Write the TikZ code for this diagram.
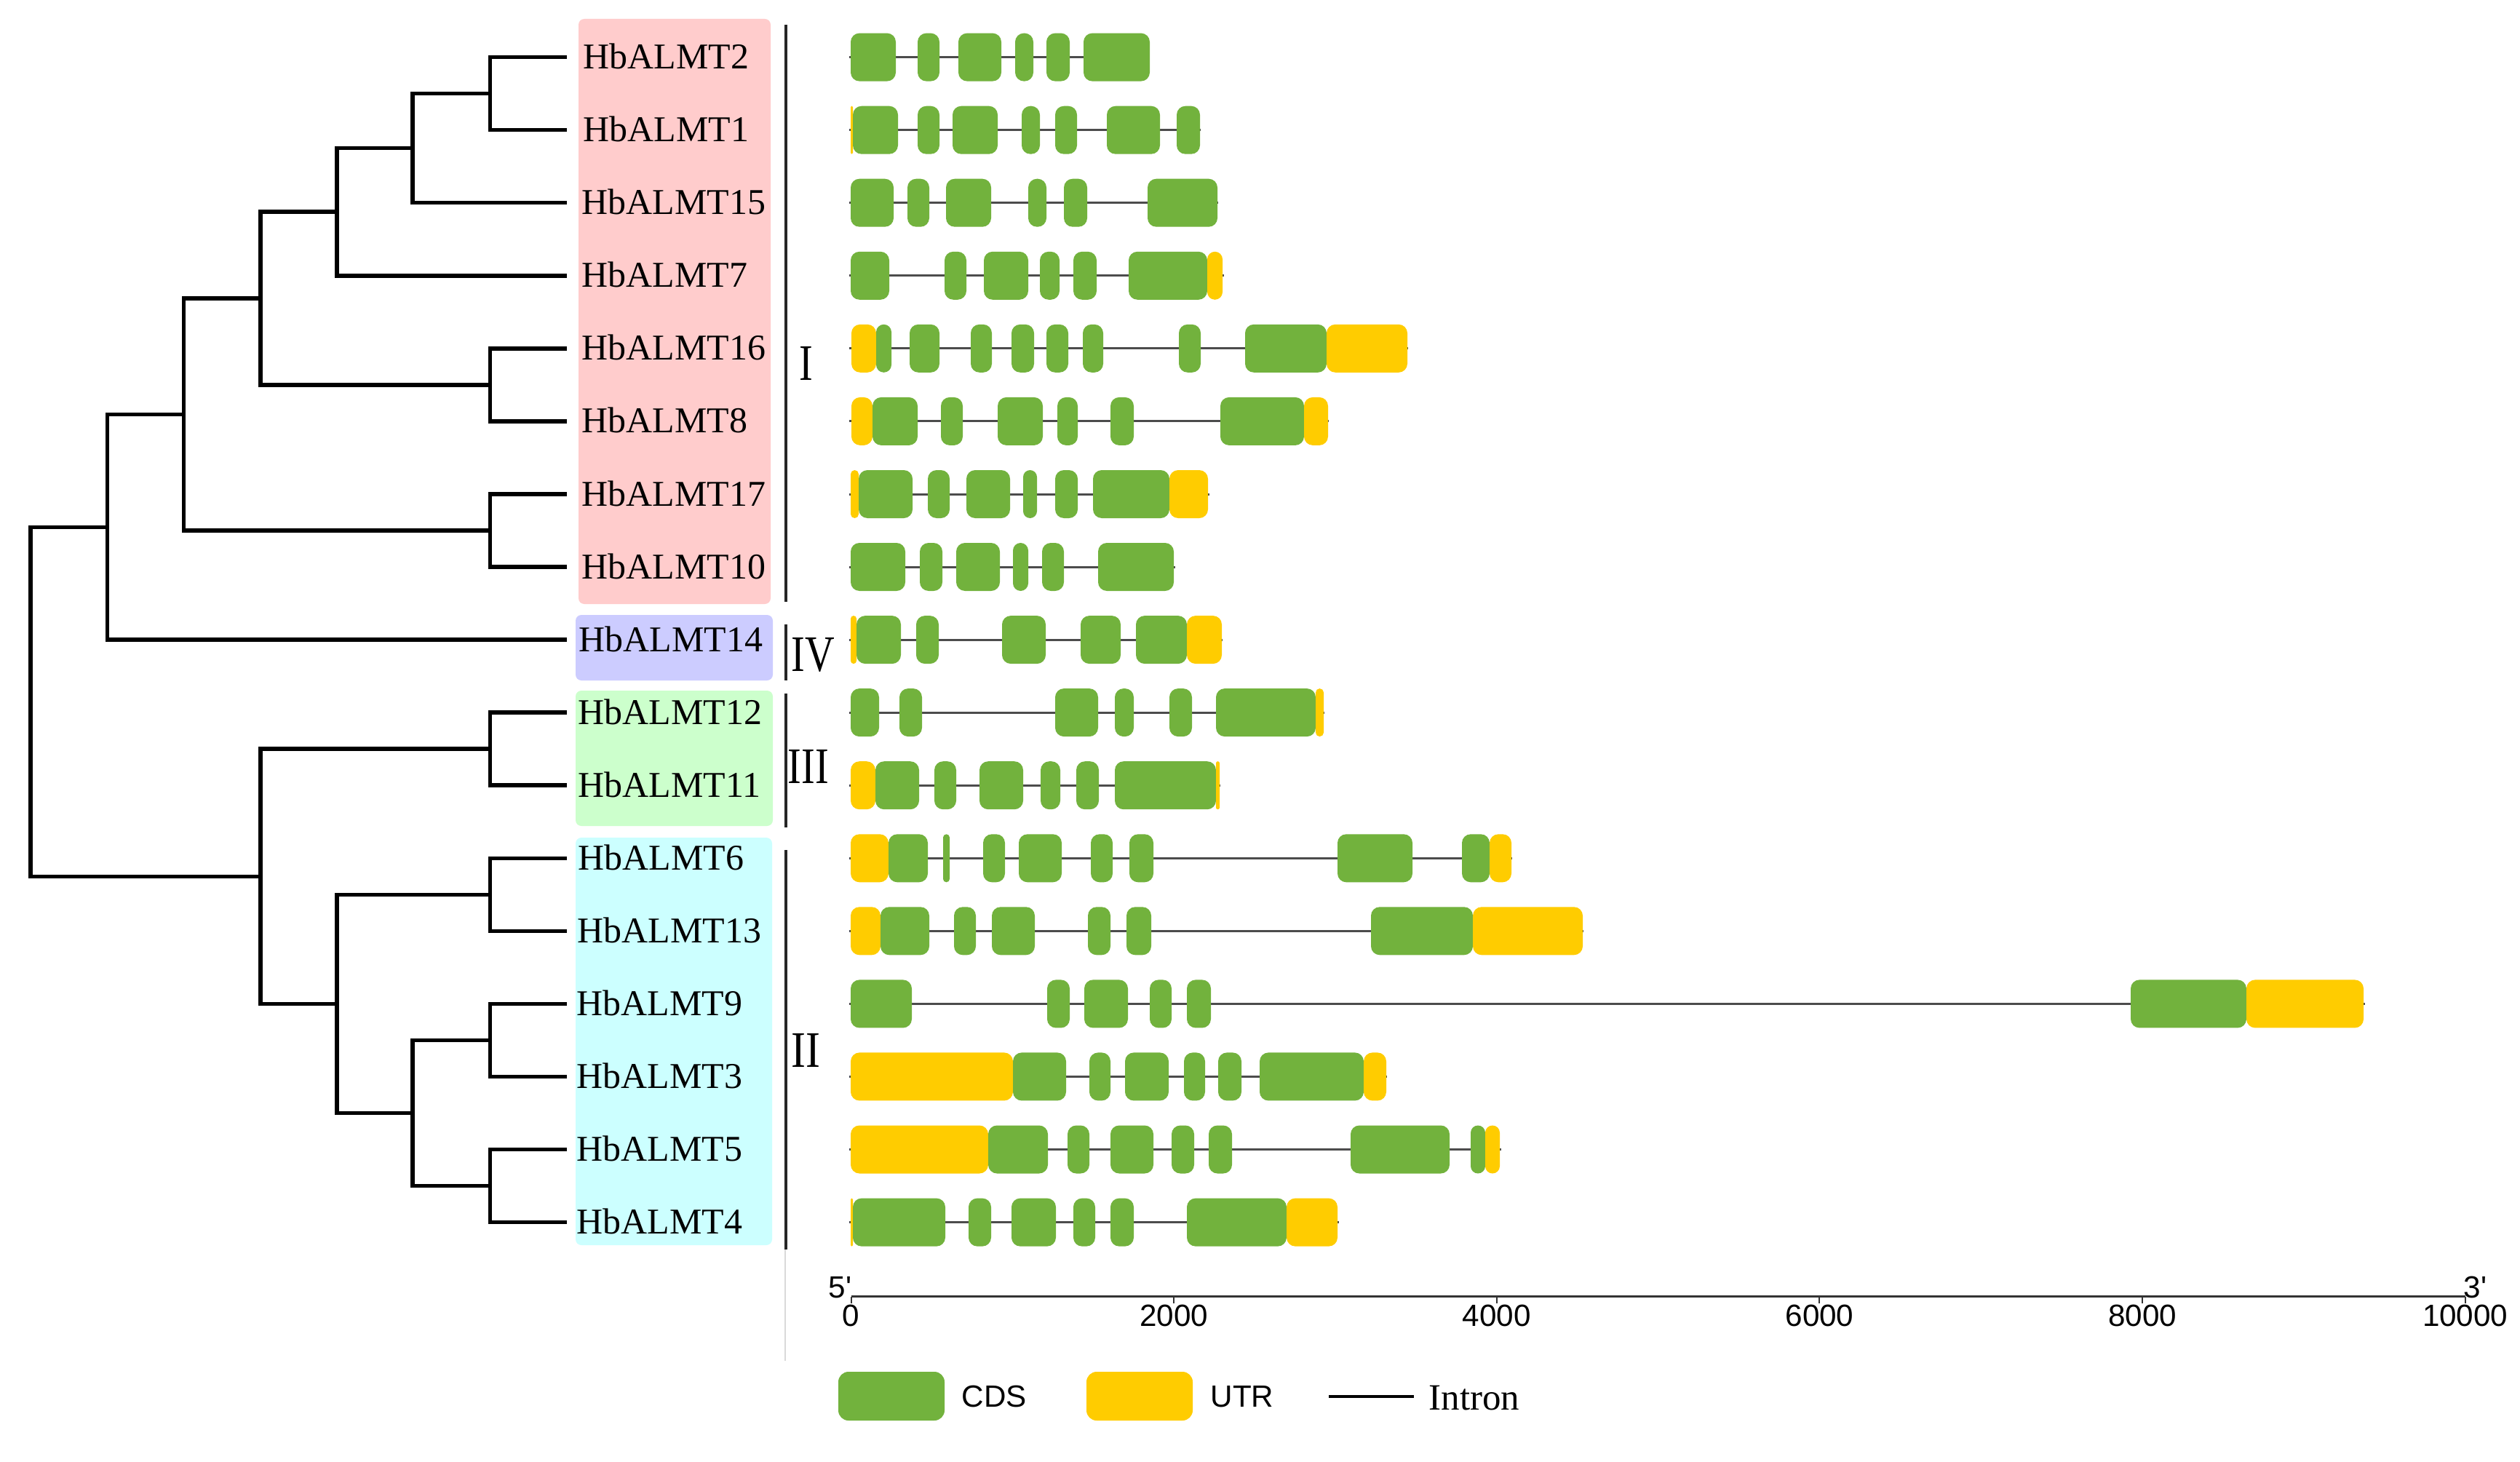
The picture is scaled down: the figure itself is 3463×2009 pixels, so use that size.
\documentclass[tikz,border=0pt]{standalone}
\usepackage{fontspec}
\usepackage{graphicx}
\setmainfont{Liberation Serif}
\newfontfamily\arialf{Liberation Sans}
\definecolor{cdsc}{RGB}{114,178,61}
\definecolor{utrc}{RGB}{255,204,0}
\definecolor{pinkbox}{RGB}{255,204,204}
\definecolor{purplebox}{RGB}{204,204,255}
\definecolor{greenbox}{RGB}{204,255,204}
\definecolor{cyanbox}{RGB}{204,255,255}
\newcommand\generow[3]{%
  \draw[intron] (1167,#1) -- (#2,#1);
  \foreach \xa/\xb/\ty in {#3}{%
    \pgfmathsetmacro\rr{min(12,(\xb-\xa)/2)}%
    \fill[\ty, rounded corners=\rr*0.1mm] (\xa,#1-33) rectangle (\xb,#1+33);}%
}
\begin{document}
\begin{tikzpicture}[x=0.01cm,y=-0.01cm,
  branch/.style={line width=0.55mm, draw=black},
  intron/.style={line width=0.3mm, draw=black!70},
  cds/.style={fill=cdsc},
  utr/.style={fill=utrc},
  lab/.style={anchor=base west, font=\fontsize{14.2}{16}\selectfont, inner sep=0pt},
  grp/.style={line width=0.4mm, draw=black!85},
  roman/.style={font=\fontsize{20}{22}\selectfont, inner sep=0pt},
  ticklab/.style={font=\arialf\fontsize{12}{14}\selectfont, inner sep=0pt},
  legtext/.style={font=\arialf\fontsize{12}{14}\selectfont, inner sep=0pt, anchor=west}]
\useasboundingbox (0,0) rectangle (3463,2009);
\fill[white] (0,0) rectangle (3463,2009);

% label background boxes
\fill[pinkbox, rounded corners=0.8mm] (795,26) rectangle (1059,830);
\fill[purplebox, rounded corners=0.8mm] (791,845) rectangle (1062,935);
\fill[greenbox, rounded corners=0.8mm] (791,949) rectangle (1062,1135);
\fill[cyanbox, rounded corners=0.8mm] (791,1151) rectangle (1061,1711);

% tips
\coordinate (t0) at (778.7,78.6);
\coordinate (t1) at (778.7,178.7);
\coordinate (t2) at (778.7,278.7);
\coordinate (t3) at (778.7,378.8);
\coordinate (t4) at (778.7,478.8);
\coordinate (t5) at (778.7,578.9);
\coordinate (t6) at (778.7,679.0);
\coordinate (t7) at (778.7,779.0);
\coordinate (t8) at (778.7,879.1);
\coordinate (t9) at (778.7,979.1);
\coordinate (t10) at (778.7,1079.2);
\coordinate (t11) at (778.7,1179.3);
\coordinate (t12) at (778.7,1279.3);
\coordinate (t13) at (778.7,1379.4);
\coordinate (t14) at (778.7,1479.4);
\coordinate (t15) at (778.7,1579.5);
\coordinate (t16) at (778.7,1679.6);
% internal nodes
\coordinate (a) at (673.4,128.65);
\coordinate (b) at (566.8,203.7);
\coordinate (c) at (463,291.2);
\coordinate (d) at (673.4,528.85);
\coordinate (e) at (357.8,410.0);
\coordinate (f) at (673.4,729.0);
\coordinate (g) at (252.5,569.5);
\coordinate (h) at (147.3,724.3);
\coordinate (i) at (673.4,1029.15);
\coordinate (j) at (673.4,1229.3);
\coordinate (k) at (673.4,1429.4);
\coordinate (l) at (673.4,1629.55);
\coordinate (m) at (566.8,1529.5);
\coordinate (n) at (463,1379.4);
\coordinate (o) at (357.8,1204.3);
\coordinate (r) at (42.1,964.3);

\draw[branch] (t0) -| (a) |- (t1);
\draw[branch] (a) -| (b) |- (t2);
\draw[branch] (b) -| (c) |- (t3);
\draw[branch] (t4) -| (d) |- (t5);
\draw[branch] (c) -| (e) |- (d);
\draw[branch] (t6) -| (f) |- (t7);
\draw[branch] (e) -| (g) |- (f);
\draw[branch] (g) -| (h) |- (t8);
\draw[branch] (t9) -| (i) |- (t10);
\draw[branch] (t11) -| (j) |- (t12);
\draw[branch] (t13) -| (k) |- (t14);
\draw[branch] (t15) -| (l) |- (t16);
\draw[branch] (k) -| (m) |- (l);
\draw[branch] (j) -| (n) |- (m);
\draw[branch] (i) -| (o) |- (n);
\draw[branch] (h) -| (r) |- (o);

% labels
\node[lab] (l0) at (801,94.6) {HbALMT2};
\node[lab] (l1) at (801,194.7) {HbALMT1};
\node[lab] (l2) at (799,294.7) {HbALMT15};
\node[lab] (l3) at (799,394.8) {HbALMT7};
\node[lab] (l4) at (799,494.8) {HbALMT16};
\node[lab] (l5) at (799,594.9) {HbALMT8};
\node[lab] (l6) at (799,695.0) {HbALMT17};
\node[lab] (l7) at (799,795.0) {HbALMT10};
\node[lab] (l8) at (795,895.1) {HbALMT14};
\node[lab] (l9) at (794,995.1) {HbALMT12};
\node[lab] (l10) at (794,1095.2) {HbALMT11};
\node[lab] (l11) at (794,1195.3) {HbALMT6};
\node[lab] (l12) at (793,1295.3) {HbALMT13};
\node[lab] (l13) at (792,1395.4) {HbALMT9};
\node[lab] (l14) at (792,1495.4) {HbALMT3};
\node[lab] (l15) at (792,1595.5) {HbALMT5};
\node[lab] (l16) at (792,1695.6) {HbALMT4};

% group bars
\draw[grp] (1080,34) -- (1080,827);
\draw[grp] (1080,858) -- (1080,935);
\draw[grp] (1080,953) -- (1080,1137);
\draw[grp] (1080,1168) -- (1080,1717);
\draw[line width=0.2mm, draw=black!15] (1079,1717) -- (1079,1870);
\node[roman] (gI) at (1108,499) {\scalebox{0.8}[1]{I}};
\node[roman] (gIV) at (1117,900) {\scalebox{0.8}[1]{IV}};
\node[roman] (gIII) at (1111,1053) {\scalebox{0.8}[1]{III}};
\node[roman] (gII) at (1107,1443) {\scalebox{0.85}[1]{II}};

% gene structures
\generow{78.6}{1580}{1169/1231/cds, 1261/1291/cds, 1317/1376/cds, 1395/1420/cds, 1438/1470/cds, 1489/1580/cds}
\generow{178.7}{1650}{1169/1172/utr, 1172/1234/cds, 1261/1291/cds, 1309/1371/cds, 1404/1429/cds, 1450/1480/cds, 1521/1594/cds, 1617/1649/cds}
\generow{278.7}{1674}{1169/1228/cds, 1247/1277/cds, 1300/1362/cds, 1413/1438/cds, 1462/1494/cds, 1577/1673/cds}
\generow{378.8}{1682}{1169/1222/cds, 1298/1328/cds, 1352/1413/cds, 1429/1456/cds, 1475/1507/cds, 1551/1659/cds, 1659/1680/utr}
\generow{478.8}{1935}{1170/1204/utr, 1204/1225/cds, 1250/1291/cds, 1334/1363/cds, 1390/1421/cds, 1438/1468/cds, 1488/1516/cds, 1620/1650/cds, 1711/1823/cds, 1823/1934/utr}
\generow{578.9}{1826}{1170/1199/utr, 1199/1261/cds, 1293/1323/cds, 1371/1433/cds, 1453/1481/cds, 1526/1558/cds, 1677/1792/cds, 1792/1825/utr}
\generow{679.0}{1662}{1169/1180/utr, 1180/1254/cds, 1275/1305/cds, 1328/1388/cds, 1406/1425/cds, 1450/1481/cds, 1502/1607/cds, 1607/1660/utr}
\generow{779.0}{1615}{1169/1244/cds, 1264/1295/cds, 1314/1374/cds, 1392/1413/cds, 1432/1462/cds, 1509/1613/cds}
\generow{879.1}{1680}{1169/1177/utr, 1177/1238/cds, 1259/1290/cds, 1377/1437/cds, 1485/1540/cds, 1561/1631/cds, 1631/1679/utr}
\generow{979.1}{1820}{1169/1208/cds, 1236/1267/cds, 1450/1509/cds, 1532/1558/cds, 1607/1638/cds, 1671/1808/cds, 1808/1819/utr}
\generow{1079.2}{1677}{1169/1203/utr, 1203/1263/cds, 1284/1314/cds, 1346/1406/cds, 1430/1457/cds, 1479/1510/cds, 1532/1671/cds, 1671/1676/utr}
\generow{1179.3}{2078}{1169/1221/utr, 1221/1275/cds, 1296/1305/cds, 1351/1381/cds, 1400/1459/cds, 1499/1529/cds, 1552/1585/cds, 1838/1941/cds, 2009/2047/cds, 2047/2077/utr}
\generow{1279.3}{2176}{1169/1210/utr, 1210/1277/cds, 1311/1341/cds, 1363/1422/cds, 1495/1526/cds, 1548/1582/cds, 1884/2024/cds, 2024/2175/utr}
\generow{1379.4}{3250}{1169/1253/cds, 1439/1470/cds, 1490/1550/cds, 1580/1610/cds, 1631/1664/cds, 2928/3087/cds, 3087/3248/utr}
\generow{1479.4}{1906}{1169/1392/utr, 1392/1465/cds, 1497/1526/cds, 1546/1606/cds, 1627/1656/cds, 1674/1706/cds, 1731/1874/cds, 1874/1905/utr}
\generow{1579.5}{2063}{1169/1358/utr, 1358/1440/cds, 1467/1497/cds, 1526/1585/cds, 1610/1641/cds, 1661/1693/cds, 1856/1992/cds, 2021/2041/cds, 2041/2061/utr}
\generow{1679.6}{1840}{1169/1172/utr, 1172/1299/cds, 1331/1362/cds, 1390/1451/cds, 1475/1505/cds, 1526/1558/cds, 1631/1768/cds, 1768/1838/utr}

% scale axis
\coordinate (ax0) at (1169.6,1781.7);
\coordinate (ax1) at (3387.7,1781.7);
\draw[line width=0.3mm, draw=black!80] (ax0) -- (ax1);
\foreach \v/\lbl in {0/0,1/2000,2/4000,3/6000,4/8000,5/10000}{
  \draw[line width=0.2mm, draw=black!80] (1169.6+443.62*\v,1781.7) -- (1169.6+443.62*\v,1791);
  \node[ticklab] (tk\v) at (1169.6+443.62*\v,1808) {\lbl};
}
\node[ticklab, anchor=base east] (five) at (1171,1783) {5'};
\node[ticklab, anchor=base west] (three) at (3385,1783) {3'};

% legend
\fill[cdsc, rounded corners=1.4mm] (1152,1885) rectangle (1298,1952);
\node[legtext] (cdst) at (1321,1919) {CDS};
\fill[utrc, rounded corners=1.4mm] (1493,1885) rectangle (1639,1952);
\node[legtext] (utrt) at (1663,1919) {UTR};
\coordinate (inta) at (1826,1919);
\coordinate (intb) at (1943,1919);
\draw[line width=0.45mm] (inta) -- (intb);
\node[anchor=west, inner sep=0pt, font=\fontsize{14.5}{16}\selectfont] (intt) at (1963,1921) {Intron};
\end{tikzpicture}
\end{document}
